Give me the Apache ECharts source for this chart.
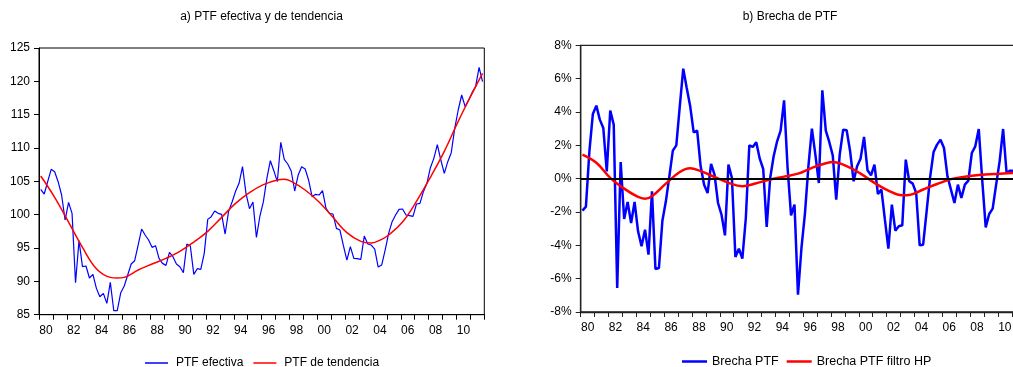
<!DOCTYPE html>
<html>
<head>
<meta charset="utf-8">
<script src="https://cdn.jsdelivr.net/npm/echarts@6/dist/echarts.min.js"></script>
<style>
  html, body { margin: 0; padding: 0; background: #fff; }
  #chart { width: 1013px; height: 367px; }
</style>
</head>
<body>
<div id="chart"></div>
<script>
// Year labels for the date axis (one band per year, 1980-2011)
const yearLabels = ['80','81','82','83','84','85','86','87','88','89',
                    '90','91','92','93','94','95','96','97','98','99',
                    '00','01','02','03','04','05','06','07','08','09',
                    '10','11'];
const firstYear = 1980;

// Quarterly categories 1980Q1 ... 2011Q4
const quarters = [];
yearLabels.forEach((_, k) => {
  for (let q = 1; q <= 4; q++) quarters.push((firstYear + k) + 'Q' + q);
});

// a) Observed TFP index
const ptfEfectiva = [
  103.8, 103.1, 104.95, 106.8, 106.45, 104.95, 102.95, 99.2,
  101.85, 100.2, 89.8, 96.1, 92.2, 92.3, 90.5, 91.05,
  88.95, 87.7, 88.2, 86.7, 89.85, 85.6, 85.6, 88.3,
  89.3, 90.95, 92.6, 93.1, 95.45, 97.85, 96.95, 96.2,
  95.1, 95.35, 93.45, 92.7, 92.4, 94.35, 93.7, 92.6,
  92.2, 91.3, 95.6, 95.3, 91.05, 91.9, 91.8, 94.2,
  99.3, 99.7, 100.55, 100.2, 100.05, 97.1, 100.5, 101.9,
  103.5, 104.7, 107.2, 103.2, 100.9, 101.9, 96.6, 99.8,
  101.95, 105.45, 108.1, 106.6, 104.95, 110.85, 108.3, 107.6,
  106.55, 103.55, 105.95, 107.2, 106.85, 105.2, 102.7, 103.05,
  102.95, 103.6, 100.95, 100.2, 100.1, 97.95, 97.7, 95.35,
  93.2, 95.2, 93.45, 93.4, 93.3, 96.8, 95.6, 95.45,
  94.85, 92.15, 92.45, 94.7, 97.2, 98.95, 99.95, 100.8,
  100.85, 99.95, 99.85, 99.75, 101.6, 101.7, 103.45, 104.7,
  107.05, 108.45, 110.5, 108.2, 106.2, 107.95, 109.3, 112.95,
  115.7, 117.95, 116.2, 117.2, 118.3, 119.2, 122.1, 119.95
];

// a) Trend TFP, read at selected quarters and drawn as a smooth curve
const tendenciaQuarters = [
  '1980Q1','1981Q1','1982Q1','1983Q1','1984Q1','1985Q1','1985Q3','1986Q1',
  '1987Q1','1988Q1','1989Q1','1990Q1','1991Q1','1992Q1','1993Q1','1994Q1',
  '1995Q1','1996Q1','1997Q1','1997Q3','1998Q1','1999Q1','2000Q1','2001Q1',
  '2002Q1','2003Q1','2003Q4','2004Q3','2005Q1','2006Q1','2007Q1','2008Q1',
  '2009Q1','2010Q1','2011Q1','2011Q4'
];
const tendenciaValues = [
  105.8, 102.6, 98.9, 95.1, 91.9, 90.6, 90.5, 90.6,
  91.7, 92.6, 93.45, 94.5, 95.9, 97.5, 99.6, 101.7,
  103.3, 104.5, 105.2, 105.3, 105.0, 103.7, 101.9, 99.6,
  97.3, 96.0, 95.75, 96.3, 96.95, 98.9, 102.0, 105.6,
  109.5, 114.0, 118.2, 121.2
];

// b) TFP gap, percent
const brechaPTF = [
  -1.92, -1.68, 1.64, 3.88, 4.38, 3.54, 3.04, 0.44,
  4.08, 3.24, -6.56, 1.0, -2.42, -1.4, -2.66, -1.4,
  -3.16, -4.06, -3.06, -4.56, -0.76, -5.42, -5.36, -2.52,
  -1.36, 0.14, 1.68, 2.0, 4.34, 6.6, 5.44, 4.34,
  2.78, 2.88, 0.74, -0.36, -0.86, 0.88, 0.24, -1.46,
  -2.16, -3.4, 0.84, 0.04, -4.7, -4.2, -4.8, -2.36,
  2.0, 1.9, 2.18, 1.2, 0.58, -2.9, 0.04, 1.34,
  2.24, 2.88, 4.7, 0.68, -2.2, -1.56, -6.96, -4.16,
  -2.1, 0.74, 3.0, 1.44, -0.26, 5.3, 2.88, 2.2,
  1.4, -1.26, 1.44, 2.94, 2.9, 1.64, -0.16, 0.74,
  1.2, 2.5, 0.5, 0.2, 0.84, -0.92, -0.66, -2.46,
  -4.2, -1.56, -3.12, -2.86, -2.8, 1.14, -0.16, -0.3,
  -0.86, -4.0, -3.96, -1.96, 0.08, 1.6, 2.04, 2.34,
  1.84, 0.14, -0.66, -1.46, -0.36, -1.16, -0.36, -0.12,
  1.54, 1.94, 2.98, -0.1, -2.92, -2.12, -1.8, -0.36,
  1.04, 2.98, 0.34, 0.48, 0.48, 0.0, 1.6, -1.0
];

// b) HP-filter gap, read at selected quarters
const hpQuarters = [
  '1980Q1','1981Q1','1982Q1','1983Q1','1984Q1','1984Q3','1985Q1','1986Q1',
  '1987Q1','1987Q4','1988Q3','1989Q3','1990Q3','1991Q3','1992Q3','1993Q3',
  '1994Q3','1995Q3','1996Q3','1997Q3','1998Q1','1999Q1','2000Q1','2001Q1',
  '2002Q1','2003Q1','2003Q3','2004Q3','2005Q3','2006Q3','2007Q3','2008Q3',
  '2010Q1','2011Q4'
];
const hpValues = [
  1.44, 0.95, 0.05, -0.6, -1.1, -1.2, -1.05, -0.3,
  0.4, 0.62, 0.45, 0.1, -0.25, -0.45, -0.28, -0.05,
  0.12, 0.3, 0.65, 0.92, 1.0, 0.75, 0.3, -0.25,
  -0.72, -1.0, -0.98, -0.65, -0.32, -0.03, 0.12, 0.22,
  0.3, 0.38
];

const pairs = (xs, ys) => xs.map((x, k) => [x, ys[k]]);

const FONT = '"Liberation Sans", Arial, sans-serif';
const BLUE = '#0000ff';
const RED = '#ff0000';

function yearAxis(gridIndex, lineColor, lineWidth) {
  return {
    gridIndex, type: 'category', data: yearLabels, boundaryGap: true,
    position: 'bottom',
    axisLine: { show: true, onZero: false, lineStyle: { color: lineColor, width: lineWidth } },
    axisTick: { show: true, interval: 0, length: 5, lineStyle: { color: lineColor } },
    axisLabel: { interval: 1, margin: 10, color: '#000', fontSize: 12, fontFamily: FONT },
    splitLine: { show: false }
  };
}
function quarterAxis(gridIndex) {
  return { gridIndex, type: 'category', data: quarters, boundaryGap: true, show: false };
}

const chart = echarts.init(document.getElementById('chart'));
chart.setOption({
  animation: false,
  backgroundColor: '#fff',
  textStyle: { fontFamily: FONT },
  title: [
    { text: 'a) PTF efectiva y de tendencia', left: 261.5, top: 11, textAlign: 'center', padding: 0,
      textStyle: { fontSize: 12, fontWeight: 'normal', color: '#000', fontFamily: FONT } },
    { text: 'b) Brecha de PTF', left: 790, top: 11, textAlign: 'center', padding: 0,
      textStyle: { fontSize: 12, fontWeight: 'normal', color: '#000', fontFamily: FONT } }
  ],
  legend: [
    { data: ['PTF efectiva', 'PTF de tendencia'], left: 145, top: 357, padding: 0,
      icon: 'rect', itemWidth: 23, itemHeight: 1.5, itemGap: 10,
      textStyle: { fontSize: 12, color: '#000', fontFamily: FONT, padding: [0, 0, 0, 3] } },
    { data: ['Brecha PTF', 'Brecha PTF filtro HP'], left: 682, top: 355, padding: 0,
      icon: 'rect', itemWidth: 25, itemHeight: 2.5, itemGap: 8,
      textStyle: { fontSize: 12.5, color: '#000', fontFamily: FONT } }
  ],
  grid: [
    { left: 39, top: 48, width: 445.3, height: 266.7, show: true, borderColor: '#000', borderWidth: 1,
      outerBoundsMode: 'none' },
    // the right panel runs past the edge of the page (to the start of 2012)
    { left: 580.7, top: 45.3, width: 445, height: 266.7, show: true, borderColor: '#222', borderWidth: 1.3,
      outerBoundsMode: 'none' }
  ],
  xAxis: [yearAxis(0, '#000', 1), quarterAxis(0), yearAxis(1, '#222', 1.3), quarterAxis(1)],
  yAxis: [
    { gridIndex: 0, type: 'value', min: 85, max: 125, interval: 5,
      axisLine: { show: true, lineStyle: { color: '#000' } },
      axisTick: { show: true, length: 5, lineStyle: { color: '#000' } },
      axisLabel: { margin: 9, color: '#000', fontSize: 12, fontFamily: FONT },
      splitLine: { show: false } },
    { gridIndex: 1, type: 'value', min: -8, max: 8, interval: 2,
      axisLine: { show: true, lineStyle: { color: '#222', width: 1.3 } },
      axisTick: { show: true, length: 5, lineStyle: { color: '#222' } },
      axisLabel: { margin: 9, color: '#000', fontSize: 12, fontFamily: FONT, formatter: '{value}%' },
      splitLine: { show: false } }
  ],
  series: [
    { name: 'PTF efectiva', type: 'line', xAxisIndex: 1, yAxisIndex: 0,
      data: ptfEfectiva, symbol: 'none', color: BLUE,
      lineStyle: { color: BLUE, width: 1.2 } },
    { name: 'PTF de tendencia', type: 'line', xAxisIndex: 1, yAxisIndex: 0,
      data: pairs(tendenciaQuarters, tendenciaValues), symbol: 'none', smooth: 0.4, color: RED,
      lineStyle: { color: RED, width: 1.5 } },
    { name: 'Brecha PTF', type: 'line', xAxisIndex: 3, yAxisIndex: 1,
      data: brechaPTF, symbol: 'none', color: BLUE,
      lineStyle: { color: BLUE, width: 2.5 },
      markLine: { silent: true, symbol: ['none', 'none'], label: { show: false },
        lineStyle: { color: '#000', width: 2.2, type: 'solid' }, data: [{ yAxis: 0 }] } },
    { name: 'Brecha PTF filtro HP', type: 'line', xAxisIndex: 3, yAxisIndex: 1,
      data: pairs(hpQuarters, hpValues), symbol: 'none', smooth: 0.4, color: RED,
      lineStyle: { color: RED, width: 2.5 } }
  ]
});
</script>
</body>
</html>
